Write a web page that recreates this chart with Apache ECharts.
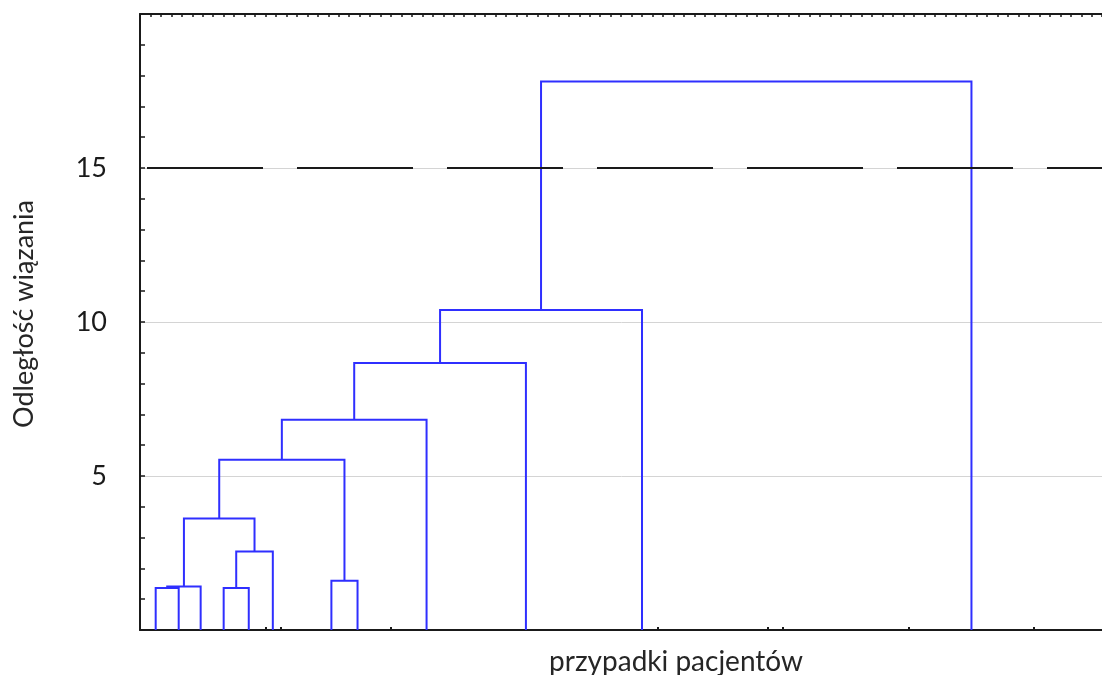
<!DOCTYPE html>
<html>
<head>
<meta charset="utf-8">
<script src="https://cdn.jsdelivr.net/npm/echarts@6/dist/echarts.min.js"></script>
<style>
  html, body { margin: 0; padding: 0; background: #ffffff; }
  #chart { width: 1102px; height: 675px; }
</style>
</head>
<body>
<div id="chart"></div>
<script>
// Horizontal position of each of the 12 patient cases (leaves of the tree)
const leafPositions = [1.5, 3.7, 5.8, 8.0, 10.4, 12.7, 18.3, 20.8, 27.4, 36.9, 48.0, 79.5];

// Agglomeration steps: [cluster A, cluster B, linkage distance].
// Ids 0..11 are leaves, id 12 + k is the cluster formed at step k.
const mergeSteps = [
  [0, 1, 1.36],
  [12, 2, 1.41],
  [3, 4, 1.36],
  [14, 5, 2.55],
  [13, 15, 3.62],
  [6, 7, 1.60],
  [16, 17, 5.53],
  [18, 8, 6.83],
  [19, 9, 8.67],
  [20, 10, 10.39],
  [21, 11, 17.81]
];

// Cut level drawn as the dashed reference line
const cutDistance = 15;

// Labelled distance values on the vertical axis
const yLabelValues = [5, 10, 15];

// Small tick marks along the bottom axis
const bottomTickValues = [12, 13.5, 24, 48, 49.5, 60, 61.5, 73.5, 85.5];

const X_MAX = 102.5;
const TEXT_FONT = 'Lato';

// Build one bracket polyline per merge step
const nodeX = leafPositions.slice();
const nodeH = leafPositions.map(() => 0);
const links = [];
mergeSteps.forEach(([a, b, h]) => {
  const xa = nodeX[a], xb = nodeX[b];
  links.push({ coords: [[xa, nodeH[a]], [xa, h], [xb, h], [xb, nodeH[b]]] });
  nodeX.push((xa + xb) / 2);
  nodeH.push(h);
});

const chart = echarts.init(document.getElementById('chart'), null, { renderer: 'canvas' });

chart.setOption({
  animation: false,
  backgroundColor: '#ffffff',
  // plot frame runs past the right edge of the canvas
  grid: { left: 140, top: 14, width: 1072, height: 616, containLabel: false, outerBoundsMode: 'none' },
  xAxis: [
    {
      type: 'value',
      position: 'bottom',
      min: 0,
      max: X_MAX,
      axisLine: { show: true, onZero: false, lineStyle: { color: '#1a1a1a', width: 2 } },
      axisTick: { show: true, inside: true, length: 3, customValues: bottomTickValues,
                  lineStyle: { color: '#1a1a1a', width: 2 } },
      axisLabel: { show: false },
      splitLine: { show: false },
      name: 'przypadki pacjentów',
      nameLocation: 'middle',
      nameGap: 18,
      nameTextStyle: { fontFamily: TEXT_FONT, fontSize: 28, color: '#262626' }
    },
    {
      type: 'value',
      position: 'top',
      min: 0,
      max: X_MAX,
      interval: 1,
      axisLine: { show: true, onZero: false, lineStyle: { color: '#1a1a1a', width: 2 } },
      axisTick: { show: true, inside: true, length: 3, lineStyle: { color: '#1a1a1a', width: 1.5 } },
      axisLabel: { show: false },
      splitLine: { show: false }
    }
  ],
  yAxis: {
    type: 'value',
    min: 0,
    max: 20,
    interval: 5,
    axisLine: { show: true, onZero: false, lineStyle: { color: '#1a1a1a', width: 2 } },
    axisTick: { show: true, inside: true, length: 5, lineStyle: { color: '#1a1a1a', width: 1.5 } },
    minorTick: { show: true, splitNumber: 5, length: 5, lineStyle: { color: '#1a1a1a', width: 1.5 } },
    axisLabel: {
      fontFamily: TEXT_FONT,
      fontSize: 27,
      color: '#1a1a1a',
      margin: 33,
      formatter: v => (yLabelValues.indexOf(v) >= 0 ? String(v) : '')
    },
    splitLine: { show: true, lineStyle: { color: '#d4d4d4', width: 1 } },
    name: 'Odległość wiązania',
    nameLocation: 'middle',
    nameGap: 102,
    nameTextStyle: { fontFamily: TEXT_FONT, fontSize: 27, color: '#262626', padding: [0, 0, 0, 16] }
  },
  series: [
    {
      type: 'lines',
      coordinateSystem: 'cartesian2d',
      xAxisIndex: 0,
      yAxisIndex: 0,
      polyline: true,
      silent: true,
      lineStyle: { color: '#2f2fff', width: 2, opacity: 1 },
      data: links
    },
    {
      type: 'line',
      xAxisIndex: 0,
      yAxisIndex: 0,
      silent: true,
      symbol: 'none',
      data: [[0, cutDistance], [X_MAX, cutDistance]],
      lineStyle: { color: '#1a1a1a', width: 2, type: [116, 34], dashOffset: 143 }
    }
  ]
});
</script>
</body>
</html>
